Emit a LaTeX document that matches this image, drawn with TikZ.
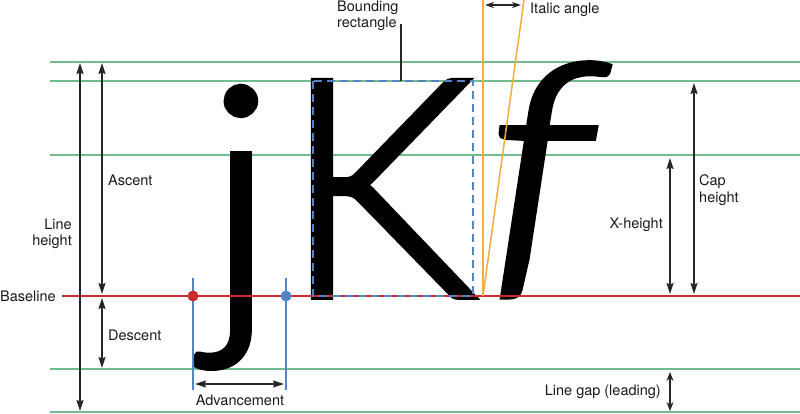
\documentclass[tikz,border=0pt]{standalone}
\usepackage{fontspec}
\setmainfont{TeX Gyre Heros}
\IfFontExistsTF{Lato Light}
  {\newfontfamily\glyphfont[FakeBold=2.2]{Lato Light}}
  {\IfFontExistsTF{Fira Sans Light}
    {\newfontfamily\glyphfont[FakeBold=2.2]{Fira Sans Light}}
    {\newfontfamily\glyphfont{Carlito}}}
\usetikzlibrary{arrows.meta}
\definecolor{gline}{RGB}{112,188,140}
\definecolor{rline}{RGB}{204,44,48}
\definecolor{bline}{RGB}{84,132,198}
\definecolor{oline}{RGB}{246,172,58}
\newcommand{\inkglyph}[1]{\hbox{\kern-\XeTeXglyphbounds1 \XeTeXcharglyph`#1 #1\kern-\XeTeXglyphbounds3 \XeTeXcharglyph`#1 }}
\tikzset{
  guide/.style={gline, line width=1.2pt},
  dimarrow/.style={{Stealth[length=11pt,width=7pt,inset=1.5pt]}-{Stealth[length=11pt,width=7pt,inset=1.5pt]}, line width=1.3pt, black!85},
  lbl/.style={font=\fontsize{14.5}{16.5}\selectfont, inner sep=0pt, text=black!90},
  glyph/.style={inner sep=0pt},
  dot/.style={circle, inner sep=0pt, minimum size=11pt},
  vline/.style={bline, line width=1.2pt},
}
\begin{document}
\begin{tikzpicture}[x=1pt,y=-1pt]
\useasboundingbox (0,0) rectangle (800,414);
% guide lines
\coordinate (g1a) at (50,62);  \coordinate (g1b) at (800,62);
\coordinate (g2a) at (50,81);  \coordinate (g2b) at (800,81);
\coordinate (g3a) at (50,155); \coordinate (g3b) at (800,155);
\coordinate (g4a) at (50,369); \coordinate (g4b) at (800,369);
\coordinate (g5a) at (50,412); \coordinate (g5b) at (800,412);
\draw[guide] (g1a) -- (g1b);
\draw[guide] (g2a) -- (g2b);
\draw[guide] (g3a) -- (g3b);
\draw[guide] (g4a) -- (g4b);
\draw[guide] (g5a) -- (g5b);
% glyphs
\node[glyph, anchor=north east] (gj) at (255,87) {\resizebox*{!}{280pt}{\glyphfont\inkglyph{j}}};
\node[glyph, anchor=north west] (gK) at (314,81) {\resizebox*{158pt}{215pt}{\glyphfont\inkglyph{K}}};
\node[glyph, anchor=north west] (gf) at (502,63) {\resizebox*{106pt}{233pt}{\glyphfont\itshape\inkglyph{f}}};
% baseline
\node[lbl, anchor=west] (baseline) at (0,296) {Baseline};
\coordinate (blEnd) at (800,296);
\draw[rline, line width=1.5pt] (baseline.east) ++(6,0) coordinate (blStart) -- (blEnd);
% bounding rectangle
\coordinate (brA) at (313,81); \coordinate (brB) at (473,296);
\draw[bline, line width=1.8pt, dash pattern=on 8pt off 5pt] (brA) rectangle (brB);
\node[lbl, anchor=west, align=left] (brlabel) at (337,16) {Bounding\\rectangle};
\coordinate (brLeadA) at (401,24); \coordinate (brLeadB) at (401,81);
\draw[line width=1.3pt, black!85] (brLeadA) -- (brLeadB);
% italic angle
\coordinate (iaBase) at (483,296); \coordinate (iaTopV) at (483,0); \coordinate (iaTopS) at (524,0);
\draw[oline, line width=1.5pt] (iaBase) -- (iaTopV);
\draw[oline, line width=1.5pt] (iaBase) -- (iaTopS);
\coordinate (iaArA) at (485,5); \coordinate (iaArB) at (521,5);
\draw[line width=1.3pt, black!85, {Stealth[length=9pt,width=6pt]}-{Stealth[length=9pt,width=6pt]}] (iaArA) -- (iaArB);
\node[lbl, anchor=west] (italic) at (530,10) {Italic angle};
% left dimensions
\coordinate (lhA) at (80,63); \coordinate (lhB) at (80,411);
\draw[dimarrow] (lhA) -- (lhB);
\node[lbl, anchor=east, align=right] (lineheight) at (72,234) {Line\\height};
\coordinate (asA) at (102,63); \coordinate (asB) at (102,294);
\draw[dimarrow] (asA) -- (asB);
\node[lbl, anchor=west] (ascent) at (108,180) {Ascent};
\coordinate (deA) at (102,298); \coordinate (deB) at (102,368);
\draw[dimarrow] (deA) -- (deB);
\node[lbl, anchor=west] (descent) at (108,335) {Descent};
% advancement
\coordinate (v1a) at (193,278); \coordinate (v1b) at (193,390);
\coordinate (v2a) at (286,278); \coordinate (v2b) at (286,390);
\draw[vline] (v1a) -- (v1b);
\draw[vline] (v2a) -- (v2b);
\node[dot, fill=rline] (reddot) at (193,296) {};
\node[dot, fill=bline] (bluedot) at (286,296) {};
\coordinate (adA) at (195,384); \coordinate (adB) at (284,384);
\draw[dimarrow] (adA) -- (adB);
\node[lbl] (advancement) at (240,400) {Advancement};
% right dimensions
\coordinate (xhA) at (670,158); \coordinate (xhB) at (670,294);
\draw[dimarrow] (xhA) -- (xhB);
\node[lbl, anchor=east] (xheight) at (663,225) {X-height};
\coordinate (chA) at (694,83); \coordinate (chB) at (694,294);
\draw[dimarrow] (chA) -- (chB);
\node[lbl, anchor=west, align=left] (capheight) at (699,190) {Cap\\height};
\coordinate (lgA) at (670,372); \coordinate (lgB) at (670,411);
\draw[line width=1.3pt, black!85, {Stealth[length=9pt,width=7pt]}-{Stealth[length=9pt,width=7pt]}] (lgA) -- (lgB);
\node[lbl, anchor=east] (linegap) at (661,392) {Line gap (leading)};
\end{tikzpicture}
\end{document}
